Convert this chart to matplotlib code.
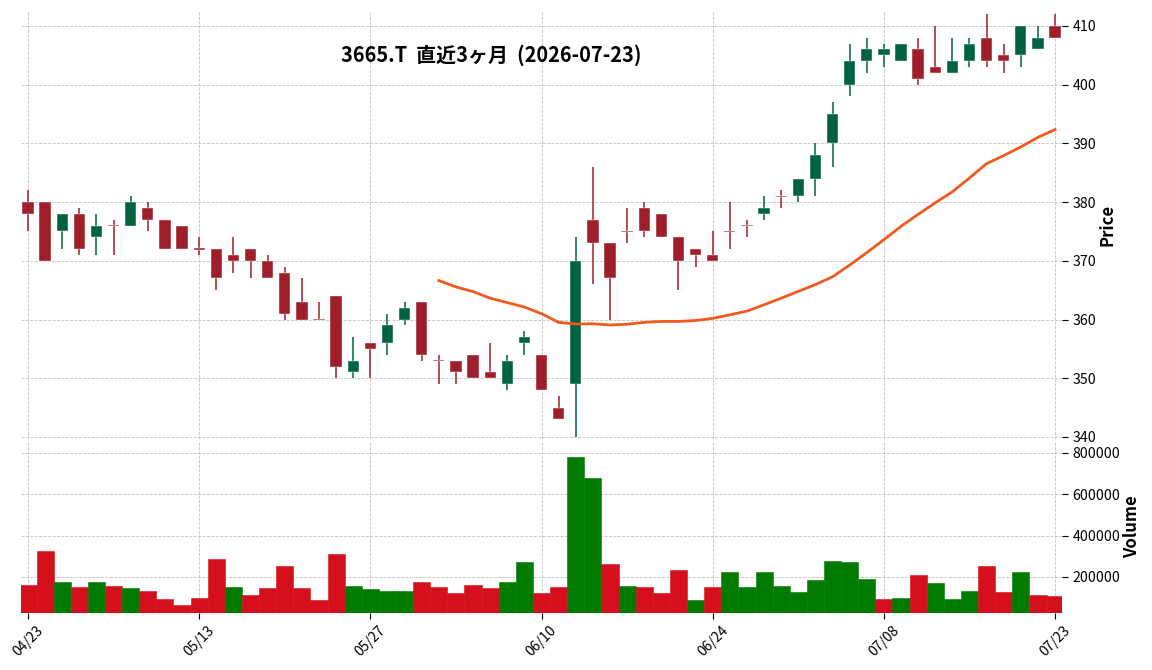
import numpy as np
import pandas as pd
import matplotlib
matplotlib.use("Agg")
import matplotlib.pyplot as plt
from matplotlib.ticker import FuncFormatter

plt.rcParams["font.family"] = ["Noto Sans CJK JP", "DejaVu Sans"]

# data
holidays = ["2026-04-29", "2026-05-04", "2026-05-05", "2026-05-06", "2026-07-20"]
dates = pd.bdate_range("2026-04-23", "2026-07-23", freq="C", holidays=holidays)

opens = [380, 380, 375, 378, 374, 376, 376, 379, 377, 376, 372, 372, 371, 372, 370, 368,
         363, 360, 364, 351, 356, 356, 360, 363, 353, 353, 354, 351, 349, 356, 354, 345,
         349, 377, 373, 375, 379, 378, 374, 372, 371, 375, 376, 378, 381, 381, 384, 390,
         400, 404, 405, 404, 406, 403, 402, 404, 408, 405, 405, 406, 410]
highs = [382, 380, 378, 379, 378, 377, 381, 380, 377, 376, 374, 372, 374, 372, 371, 369,
         367, 363, 364, 357, 356, 361, 363, 363, 354, 353, 354, 356, 354, 358, 354, 347,
         374, 386, 373, 379, 380, 378, 374, 372, 375, 380, 377, 381, 382, 384, 390, 397,
         407, 408, 407, 407, 408, 410, 408, 408, 412, 407, 410, 410, 412]
lows = [375, 370, 372, 371, 371, 371, 376, 375, 372, 372, 371, 365, 368, 367, 367, 360,
        360, 360, 350, 350, 350, 354, 359, 353, 349, 349, 350, 350, 348, 354, 348, 343,
        340, 366, 360, 373, 374, 374, 365, 369, 370, 372, 374, 377, 379, 380, 381, 386,
        398, 402, 403, 404, 400, 402, 402, 403, 403, 402, 403, 406, 408]
closes = [378, 370, 378, 372, 376, 376, 380, 377, 372, 372, 372, 367, 370, 370, 367, 361,
          360, 360, 352, 353, 355, 359, 362, 354, 353, 351, 350, 350, 353, 357, 348, 343,
          370, 373, 367, 375, 375, 374, 370, 371, 370, 375, 376, 379, 381, 384, 388, 395,
          404, 406, 406, 407, 401, 402, 404, 407, 404, 404, 410, 408, 408]
volumes = [161000, 325000, 176000, 152000, 176000, 157000, 147000, 132000, 94000, 65000,
           99000, 287000, 152000, 113000, 147000, 253000, 147000, 89000, 311000, 157000,
           142000, 132000, 132000, 176000, 152000, 123000, 161000, 147000, 176000, 272000,
           123000, 152000, 779000, 678000, 263000, 157000, 152000, 123000, 234000, 89000,
           152000, 224000, 152000, 224000, 157000, 128000, 186000, 277000, 272000, 190000,
           94000, 99000, 209000, 171000, 94000, 132000, 253000, 128000, 224000, 113000, 108000]
mav_window = 25
title = "3665.T  直近3ヶ月  (2026-07-23)"

o = np.array(opens, float)
h = np.array(highs, float)
l = np.array(lows, float)
c = np.array(closes, float)
v = np.array(volumes, float)
x = np.arange(len(c))
mav = pd.Series(c).rolling(mav_window).mean()

up_c, dn_c = "#006340", "#9e1f29"
vup_c, vdn_c = "#007a00", "#d50f1b"

fig = plt.figure(figsize=(11.52, 6.70), dpi=100)
ax = fig.add_axes([0.0182, 0.3455, 0.9036, 0.6381])
axv = fig.add_axes([0.0182, 0.0851, 0.9036, 0.2567], sharex=ax)

# candles
cols = [up_c if cc > oo else dn_c for oo, cc in zip(o, c)]
ax.vlines(x, l, h, colors=cols, linewidth=1.1, zorder=3)
body_lo = np.minimum(o, c)
body_h = np.maximum(np.abs(c - o), 0.25)
body_lo = np.where(np.abs(c - o) < 0.25, body_lo - 0.125, body_lo)
ax.bar(x, body_h, bottom=body_lo, width=0.66, color=cols, edgecolor="white",
       linewidth=0.3, zorder=4)
ax.plot(x, mav, color="#f05a1e", linewidth=2.0, zorder=5)

# volume, coloured against previous close
vcols = [vdn_c] + [vup_c if c[i] > c[i - 1] else vdn_c for i in range(1, len(c))]
axv.bar(x, v, width=1.0, color=vcols, edgecolor=vcols, linewidth=0.4, zorder=3)

ax.set_xlim(-0.41, 60.4)
ax.set_ylim(339.74, 412.55)
axv.set_ylim(26000, 857000)

ax.set_yticks(np.arange(340, 411, 10))
axv.set_yticks([200000, 400000, 600000, 800000])
axv.yaxis.set_major_formatter(FuncFormatter(lambda val, pos: f"{int(val)}"))

ticks = list(range(0, len(x), 10))
axv.set_xticks(ticks)
axv.set_xticklabels([dates[i].strftime("%m/%d") for i in ticks], rotation=45, fontsize=10)
plt.setp(ax.get_xticklabels(), visible=False)
ax.tick_params(axis="x", length=0)

for a in (ax, axv):
    a.yaxis.tick_right()
    a.yaxis.set_label_position("right")
    a.tick_params(axis="y", labelsize=10.2, length=4, width=0.8)
    a.grid(True, linestyle="--", linewidth=0.6, color="#c2c2c2")
    a.set_axisbelow(True)
    for s in a.spines.values():
        s.set_visible(False)
axv.tick_params(axis="x", length=4, width=0.8)

ax.set_ylabel("Price", fontsize=12, fontweight="bold", labelpad=2)
axv.set_ylabel("Volume", fontsize=12, fontweight="bold", labelpad=2)

fig.text(0.426, 0.918, title, ha="center", va="center", fontsize=14.4, fontweight="bold")

fig.savefig("out.png", dpi=100)
